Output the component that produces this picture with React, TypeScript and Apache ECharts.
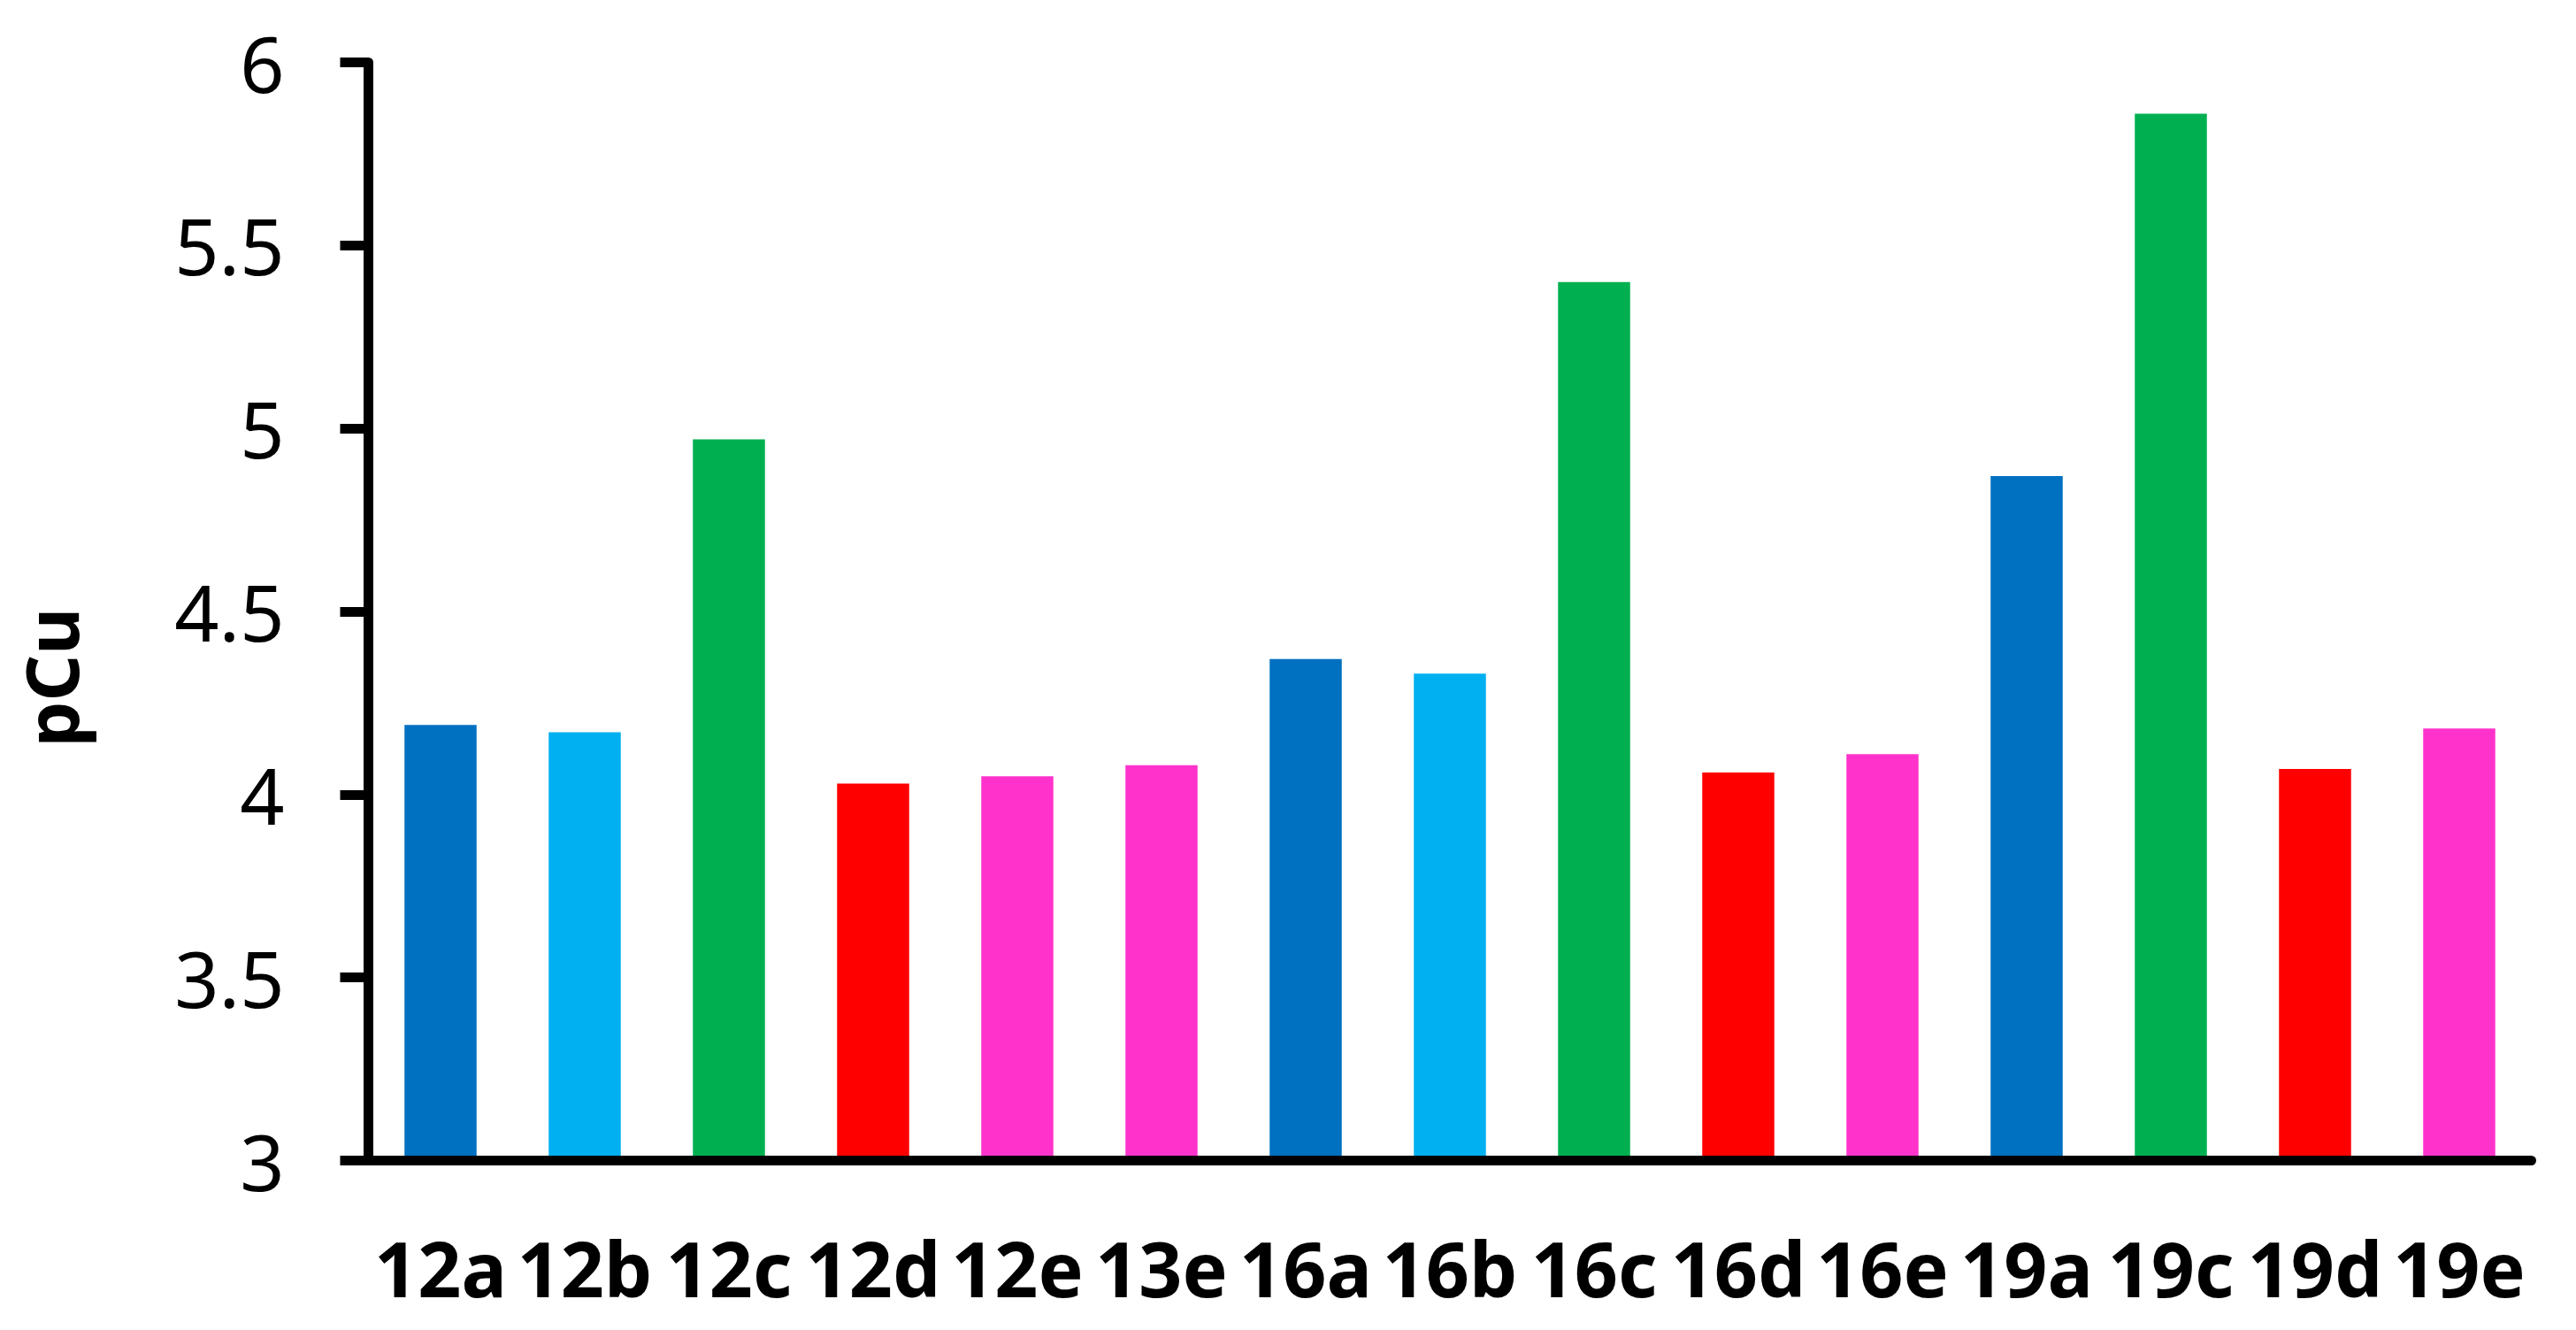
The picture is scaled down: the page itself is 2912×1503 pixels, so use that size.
import React, { useEffect, useRef } from "react";
import * as echarts from "echarts";

const categories = ["12a", "12b", "12c", "12d", "12e", "13e", "16a", "16b", "16c", "16d", "16e", "19a", "19c", "19d", "19e"];
const pCuValues = [4.19, 4.17, 4.97, 4.03, 4.05, 4.08, 4.37, 4.33, 5.40, 4.06, 4.11, 4.87, 5.86, 4.07, 4.18];
const barColors = ["#0070C0", "#00B0F0", "#00B050", "#FF0000", "#FF33CC", "#FF33CC", "#0070C0", "#00B0F0", "#00B050", "#FF0000", "#FF33CC", "#0070C0", "#00B050", "#FF0000", "#FF33CC"];
const yMin = 3;
const yMax = 6;
const yStep = 0.5;
const yAxisTitle = "pCu";

const FONT = "'Noto Sans', 'Open Sans', sans-serif";

export default function App() {
  const ref = useRef<HTMLDivElement>(null);
  useEffect(() => {
    if (!ref.current) return;
    const chart = echarts.init(ref.current, null, { renderer: "svg" });
    chart.setOption({
      animation: false,
      backgroundColor: "#ffffff",
      grid: { left: 416.5, right: 50.5, top: 70.5, bottom: 191.5, containLabel: false },
      xAxis: {
        type: "category",
        data: categories,
        boundaryGap: true,
        z: 5,
        axisLine: { show: true, lineStyle: { color: "#000", width: 11 } },
        axisTick: { show: false },
        axisLabel: {
          interval: 0,
          margin: 78,
          color: "#000",
          fontFamily: FONT,
          fontWeight: "bold",
          fontSize: 86,
        },
      },
      yAxis: {
        type: "value",
        min: yMin,
        max: yMax,
        interval: yStep,
        z: 5,
        splitLine: { show: false },
        axisLine: { show: true, lineStyle: { color: "#000", width: 11 } },
        axisTick: { show: true, inside: false, length: 32, lineStyle: { color: "#000", width: 11 } },
        axisLabel: {
          margin: 95,
          color: "#000",
          fontFamily: FONT,
          fontSize: 88,
        },
      },
      graphic: [
        {
          type: "text",
          x: 57,
          y: 765.5,
          rotation: Math.PI / 2,
          style: {
            text: yAxisTitle,
            align: "center",
            verticalAlign: "middle",
            lineHeight: 82,
            fill: "#000",
            font: `bold 82px ${FONT}`,
          },
        },
      ],
      series: [
        {
          type: "bar",
          barWidth: "50%",
          data: pCuValues.map((v, i) => ({ value: v, itemStyle: { color: barColors[i] } })),
        },
      ],
    });
    return () => chart.dispose();
  }, []);
  return <div ref={ref} style={{ position: "absolute", left: 0, top: 0, width: 2912, height: 1503 }} />;
}
